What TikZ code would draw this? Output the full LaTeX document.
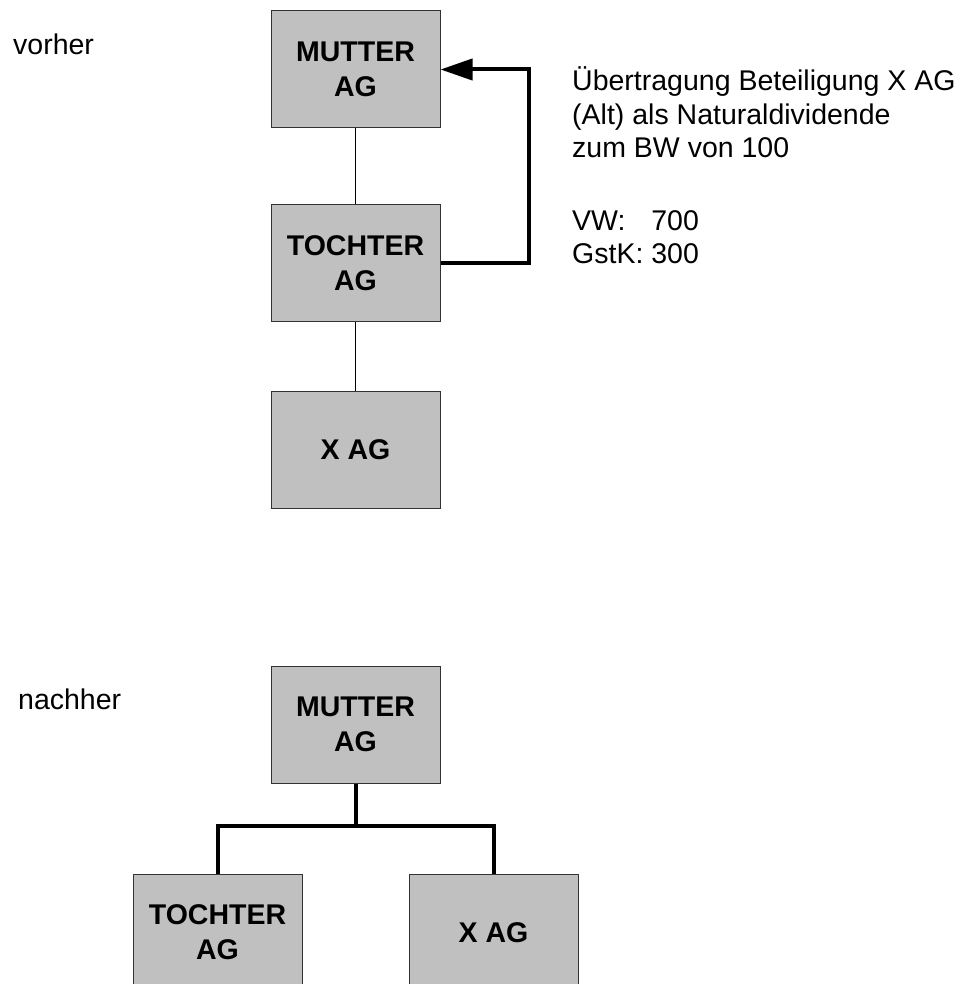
\documentclass[tikz,border=0pt]{standalone}
\usepackage{fontspec}
\setmainfont{Liberation Sans}
\usetikzlibrary{arrows.meta}
\begin{document}
\begin{tikzpicture}[x=1pt,y=-1pt,
  agbox/.style={rectangle, draw=black!80, line width=1pt, fill={rgb,255:red,192;green,192;blue,192}, minimum width=169pt, minimum height=117pt, inner sep=0pt, align=center, font=\fontsize{28.5}{35}\selectfont\bfseries},
  lbl/.style={inner sep=0pt, anchor=base west, font=\fontsize{28.5}{33.3}\selectfont},
  thinlink/.style={line width=1pt},
  thicklink/.style={line width=4pt}]
\useasboundingbox (0,0) rectangle (970,984);
\node[lbl] (vorher) at (13,55){vorher};
\node[agbox] (mut1) at (355.5,69.5){MUTTER\\AG};
\node[agbox] (toch1) at (355.5,263){TOCHTER\\AG};
\node[agbox] (xag1) at (355.5,449.5){X AG};
\draw[thinlink](mut1) -- (toch1);
\draw[thinlink](toch1) -- (xag1);
\draw[thicklink, -{Triangle[length=32pt,width=21pt]}](toch1.east) -- ++(88,0) |- (mut1.east);
\node[lbl] (info) at (572,91){\begin{tabular}[t]{@{}l@{}}\"Ubertragung Beteiligung X AG\\(Alt) als Naturaldividende\\zum BW von 100\end{tabular}};
\node[lbl] (werte) at (572,230){\begin{tabular}[t]{@{}l@{\ }l@{}}VW: & 700\\GstK: & 300\end{tabular}};
\node[lbl] (nachher) at (18,709){nachher};
\node[agbox] (mut2) at (355.5,724.5){MUTTER\\AG};
\node[agbox] (toch2) at (217.5,932.5){TOCHTER\\AG};
\node[agbox] (xag2) at (493.5,932.5){X AG};
\draw[thicklink](mut2.south) -- ++(0,42) coordinate (fork);
\draw[thicklink](toch2.north) |- (fork) -| (xag2.north);
\end{tikzpicture}
\end{document}
